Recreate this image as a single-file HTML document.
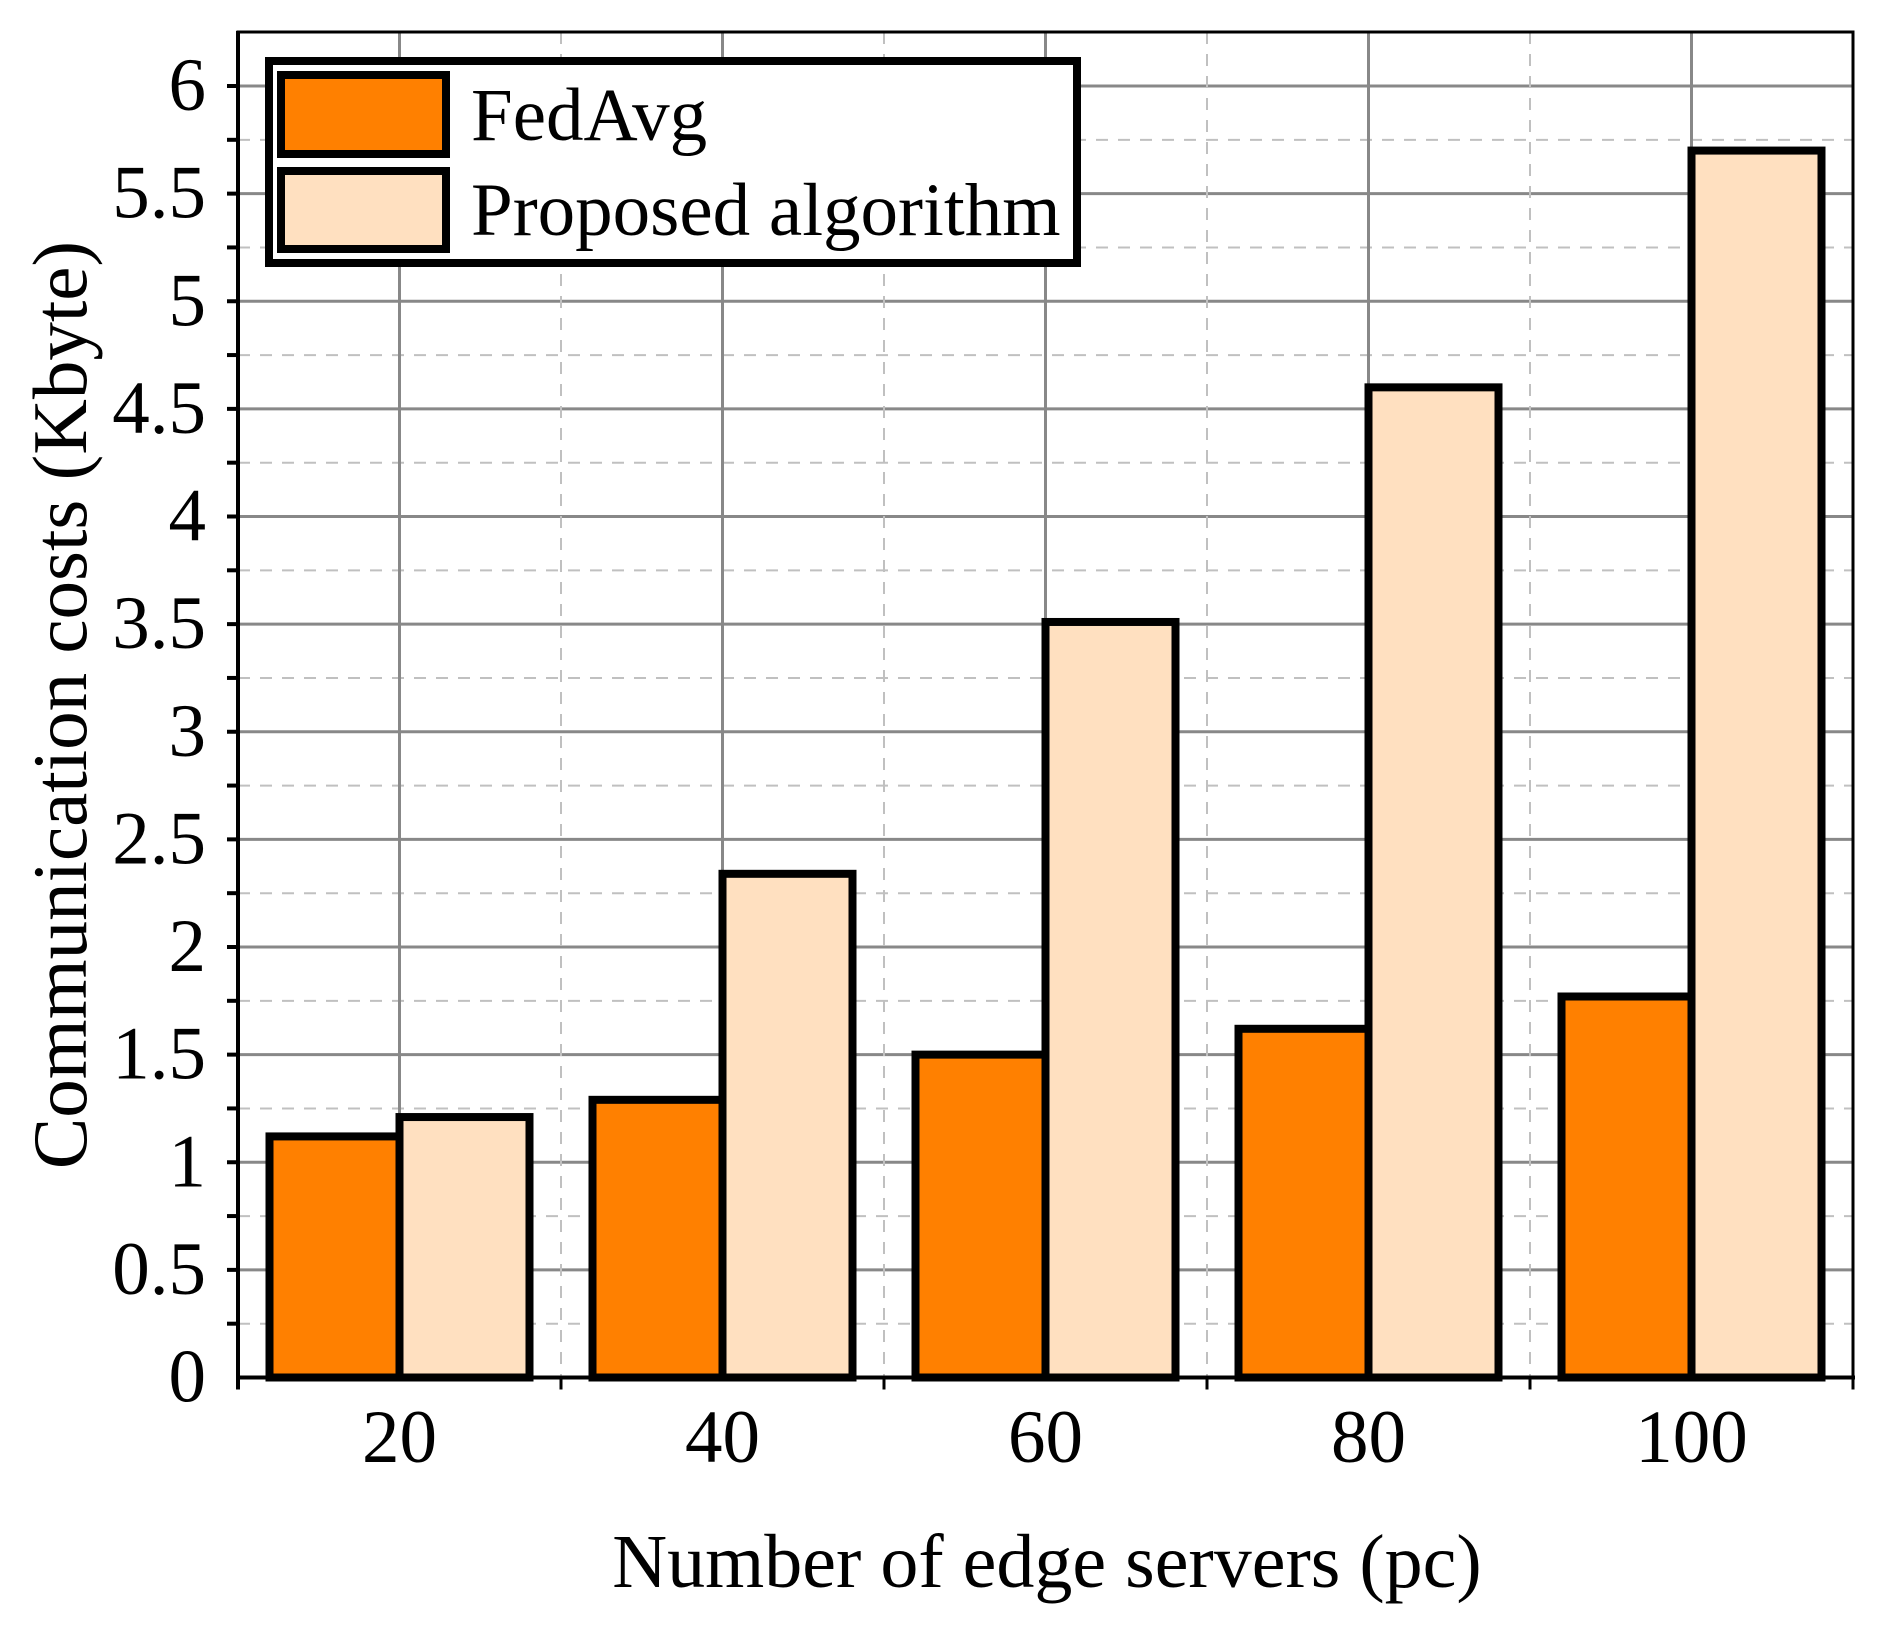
<!DOCTYPE html>
<html><head><meta charset="utf-8"><style>
html,body{margin:0;padding:0;background:#fff}
svg{display:block}
text{font-family:"Liberation Serif",serif;fill:#000}
</style></head><body>
<svg id="chart" width="1887" height="1633" viewBox="0 0 1887 1633" xmlns="http://www.w3.org/2000/svg">
<g id="grid"></g>
<g id="bars"></g>
<g id="axes"></g>
<text transform="translate(86,705) rotate(-90)" text-anchor="middle" font-size="77">Communication costs (Kbyte)</text>
<text x="1047" y="1587" text-anchor="middle" font-size="76">Number of edge servers (pc)</text>
<g>
<rect x="269" y="61" width="808" height="202" fill="#fff" stroke="#000" stroke-width="8"/>
<rect x="281" y="75" width="165" height="79" fill="#ff8000" stroke="#000" stroke-width="8"/>
<text x="471" y="140" font-size="75">FedAvg</text>
<rect x="281" y="171" width="165" height="78" fill="#ffe0c0" stroke="#000" stroke-width="8"/>
<text x="471" y="235" font-size="75">Proposed algorithm</text>
</g>
</svg>
<script>
const categories = ["20","40","60","80","100"];
const fedavg = [1.12, 1.29, 1.50, 1.62, 1.77];
const proposed = [1.21, 2.34, 3.51, 4.60, 5.70];
const yTicks = [0,0.5,1,1.5,2,2.5,3,3.5,4,4.5,5,5.5,6];
const yTickLabels = ["0","0.5","1","1.5","2","2.5","3","3.5","4","4.5","5","5.5","6"];

const NS = "http://www.w3.org/2000/svg";
const L = 238, R = 1853, T = 32, B = 1377.5;
const yMax = 6.0;
const pxPerUnit = (B - 86) / yMax;
function yScale(v){ return B - v * pxPerUnit; }
const step = (R - L) / categories.length;
function xCenter(i){ return L + step * (i + 0.5); }
function mk(tag, attrs, parent){
  const e = document.createElementNS(NS, tag);
  for (const k in attrs) e.setAttribute(k, attrs[k]);
  parent.appendChild(e);
  return e;
}
const grid = document.getElementById('grid');
const bars = document.getElementById('bars');
const axes = document.getElementById('axes');

// horizontal grid
for (let v = 0.25; v <= 6.26; v += 0.25) {
  const y = yScale(v);
  if (y < T) continue;
  const major = Math.abs(v*2 - Math.round(v*2)) < 1e-6;
  const ln = mk('line', {x1:L, x2:R, y1:y, y2:y, stroke: major ? '#888' : '#c0c0c0', 'stroke-width': major ? 3 : 2, 'stroke-dasharray': major ? '' : '12,10'}, grid);
  
  
}
// vertical grid
for (let i = 0; i < categories.length; i++) {
  const xc = xCenter(i);
  const g1 = mk('line', {x1:xc, x2:xc, y1:T, y2:B, stroke:'#888', 'stroke-width':3}, grid);
  
  
  if (i > 0) {
    const xm = L + step * i;
    const g2 = mk('line', {x1:xm, x2:xm, y1:T, y2:B, stroke:'#c0c0c0', 'stroke-width':2, 'stroke-dasharray':'12,10'}, grid);
    
    
  }
}
// bars
const bw = 130;
for (let i = 0; i < categories.length; i++) {
  const xc = xCenter(i);
  const r1 = mk('rect', {x: xc - bw, y: yScale(fedavg[i]), width: bw, height: B - yScale(fedavg[i]), fill:'#ff8000', stroke:'#000', 'stroke-width':8}, bars);
  
  
  const r2 = mk('rect', {x: xc, y: yScale(proposed[i]), width: bw, height: B - yScale(proposed[i]), fill:'#ffe0c0', stroke:'#000', 'stroke-width':8}, bars);
  
  
}
// frame
const fr = mk('rect', {x:L, y:T, width:R-L, height:B-T, fill:'none', stroke:'#000', 'stroke-width':3}, axes);


const ya = mk('line', {x1:L, x2:L, y1:T-1, y2:B+12, stroke:'#000', 'stroke-width':4}, axes);


const xa = mk('line', {x1:L-2, x2:R+2, y1:B, y2:B, stroke:'#000', 'stroke-width':4}, axes);


// y ticks
for (let v = 0.25; v <= 6.01; v += 0.25) {
  const y = yScale(v);
  const t = mk('line', {x1:L-11, x2:L, y1:y, y2:y, stroke:'#000', 'stroke-width':4}, axes);
  
  
}
yTicks.forEach((v, k) => {
  const tx = mk('text', {x:206, y:yScale(v)+24, 'text-anchor':'end', 'font-size':75}, axes);
  tx.textContent = yTickLabels[k];
  
  
});
// x ticks
for (let i = 0; i <= categories.length; i++) {
  const xm = L + step * i;
  const t = mk('line', {x1:xm, x2:xm, y1:B, y2:B+12, stroke:'#000', 'stroke-width':3}, axes);
  
  
}
categories.forEach((c, i) => {
  const tx = mk('text', {x:xCenter(i), y:1462, 'text-anchor':'middle', 'font-size':75}, axes);
  tx.textContent = c;
  
  
});
</script>
</body></html>
